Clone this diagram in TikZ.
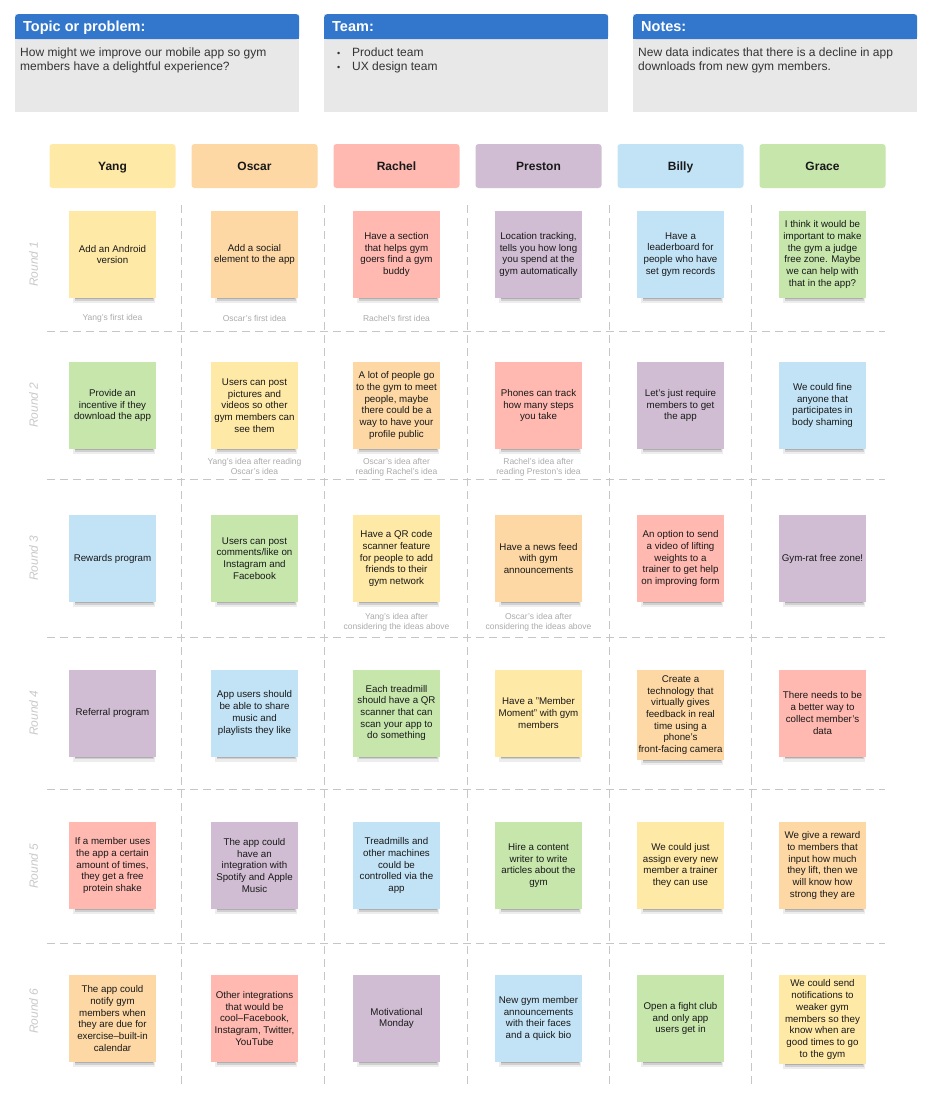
\documentclass[tikz,border=0pt]{standalone}
\usepackage{fontspec}
\setmainfont{Liberation Sans}
\usetikzlibrary{shadows}
\definecolor{hdrblue}{HTML}{3377CC}
\definecolor{hdrgray}{HTML}{E8E8E8}
\definecolor{bodytext}{HTML}{333333}
\definecolor{yel}{HTML}{FFE9A6}
\definecolor{ora}{HTML}{FDD8A4}
\definecolor{pnk}{HTML}{FFB9B1}
\definecolor{pur}{HTML}{D1BDD3}
\definecolor{blu}{HTML}{C2E3F6}
\definecolor{grn}{HTML}{C6E6AC}
\definecolor{gridgray}{HTML}{C6C6C6}
\definecolor{capgray}{HTML}{ABABAB}
\definecolor{lblgray}{HTML}{CACACA}
\begin{document}
\begin{tikzpicture}[x=1pt,y=-1pt,
  hdrbody/.style={fill=hdrgray, minimum width=284pt, minimum height=98pt, inner sep=0pt, anchor=north west},
  hdrbar/.style={fill=hdrblue, rounded corners=3pt, minimum width=284pt, minimum height=25pt, inner sep=0pt, anchor=north west},
  hdrtitle/.style={anchor=base west, inner sep=0pt, text=white, font=\fontsize{14.5}{16}\bfseries\selectfont},
  hdrtext/.style={anchor=north west, inner sep=0pt, align=left, text=bodytext, font=\fontsize{12}{14.5}\selectfont},
  colhead/.style={minimum width=126pt, minimum height=44pt, rounded corners=3pt, inner sep=0pt, text=black!90, font=\fontsize{12}{14}\bfseries\selectfont, text height=8.6pt, text depth=0pt},
  sticky/.style={minimum width=87pt, minimum height=87pt, inner sep=0pt, align=center, text=black!90,
     font=\fontsize{9.75}{11.7}\selectfont,
     general shadow={fill=black, opacity=0.07, shadow xshift=2pt, shadow yshift=-8.5pt, shadow scale=0.94},
     general shadow={fill=black, opacity=0.12, shadow xshift=2pt, shadow yshift=-7.5pt, shadow scale=0.91},
     general shadow={fill=black, opacity=0.16, shadow xshift=2pt, shadow yshift=-6pt, shadow scale=0.9}},
  capt/.style={align=center, inner sep=0pt, text=capgray, font=\fontsize{8.5}{10}\selectfont},
  roundlbl/.style={rotate=90, inner sep=0pt, text=lblgray, font=\fontsize{12}{14}\itshape\selectfont},
  gridline/.style={draw=gridgray, line width=0.9pt, dash pattern=on 8pt off 5pt}
]
\useasboundingbox (0,0) rectangle (936,1108);
\fill[white] (0,0) rectangle (936,1108);

% ---------- header boxes ----------
\node[hdrbody] (topicbox) at (15,14) {};
\node[hdrbar] (topicbar) at (15,14) {};
\fill[hdrblue] (15,30) rectangle (299,39);
\node[hdrtitle] (topictitle) at (23,32) {Topic or problem:};
\node[hdrtext] (topictext) at (20,47.3) {How might we improve our mobile app so gym\\members have a delightful experience?};

\node[hdrbody] (teambox) at (324,14) {};
\node[hdrbar] (teambar) at (324,14) {};
\fill[hdrblue] (324,30) rectangle (608,39);
\node[hdrtitle] (teamtitle) at (332,32) {Team:};
\node[hdrtext] (teamtext) at (337,47.3) {\makebox[15pt][l]{\fontsize{9}{9}\selectfont •}Product team\\\makebox[15pt][l]{\fontsize{9}{9}\selectfont •}UX design team};

\node[hdrbody] (notesbox) at (633,14) {};
\node[hdrbar] (notesbar) at (633,14) {};
\fill[hdrblue] (633,30) rectangle (917,39);
\node[hdrtitle] (notestitle) at (641,32) {Notes:};
\node[hdrtext] (notestext) at (638,47.3) {New data indicates that there is a decline in app\\downloads from new gym members.};

% ---------- column headers ----------
\node[colhead, fill=yel] (hYang) at (112.5,166) {Yang};
\node[colhead, fill=ora] (hOscar) at (254.5,166) {Oscar};
\node[colhead, fill=pnk] (hRachel) at (396.5,166) {Rachel};
\node[colhead, fill=pur] (hPreston) at (538.5,166) {Preston};
\node[colhead, fill=blu] (hBilly) at (680.5,166) {Billy};
\node[colhead, fill=grn] (hGrace) at (822.5,166) {Grace};

% ---------- grid ----------
\foreach \gx in {181,324,467,609,751} \draw[gridline] (\gx,205) -- (\gx,1087);
\foreach \gy in {331,479,637,789,943} \draw[gridline] (47,\gy) -- (885,\gy);

% ---------- round labels ----------
\node[roundlbl] (lbl1) at (33.5,264) {Round 1};
\node[roundlbl] (lbl2) at (33.5,405) {Round 2};
\node[roundlbl] (lbl3) at (33.5,558) {Round 3};
\node[roundlbl] (lbl4) at (33.5,713) {Round 4};
\node[roundlbl] (lbl5) at (33.5,866) {Round 5};
\node[roundlbl] (lbl6) at (33.5,1011) {Round 6};

% ---------- round 1 ----------
\node[sticky, fill=yel] (s11) at (112.5,254.5) {Add an Android\\version};
\node[sticky, fill=ora] (s12) at (254.5,254.5) {Add a social\\element to the app};
\node[sticky, fill=pnk] (s13) at (396.5,254.5) {Have a section\\that helps gym\\goers find a gym\\buddy};
\node[sticky, fill=pur] (s14) at (538.5,254.5) {Location tracking,\\tells you how long\\you spend at the\\gym automatically};
\node[sticky, fill=blu] (s15) at (680.5,254.5) {Have a\\leaderboard for\\people who have\\set gym records};
\node[sticky, fill=grn] (s16) at (822.5,254.5) {I think it would be\\important to make\\the gym a judge\\free zone. Maybe\\we can help with\\that in the app?};
\node[capt] (c11) at (112.5,318.5) {Yang's first idea};
\node[capt] (c12) at (254.5,318.5) {Oscar's first idea};
\node[capt] (c13) at (396.5,318.5) {Rachel's first idea};

% ---------- round 2 ----------
\node[sticky, fill=grn] (s21) at (112.5,405.5) {Provide an\\incentive if they\\download the app};
\node[sticky, fill=yel] (s22) at (254.5,405.5) {Users can post\\pictures and\\videos so other\\gym members can\\see them};
\node[sticky, fill=ora] (s23) at (396.5,405.5) {A lot of people go\\to the gym to meet\\people, maybe\\there could be a\\way to have your\\profile public};
\node[sticky, fill=pnk] (s24) at (538.5,405.5) {Phones can track\\how many steps\\you take};
\node[sticky, fill=pur] (s25) at (680.5,405.5) {Let's just require\\members to get\\the app};
\node[sticky, fill=blu] (s26) at (822.5,405.5) {We could fine\\anyone that\\participates in\\body shaming};
\node[capt] (c22) at (254.5,466) {Yang's idea after reading\\Oscar's idea};
\node[capt] (c23) at (396.5,467) {Oscar's idea after\\reading Rachel's idea};
\node[capt] (c24) at (538.5,467) {Rachel's idea after\\reading Preston's idea};

% ---------- round 3 ----------
\node[sticky, fill=blu] (s31) at (112.5,558.5) {Rewards program};
\node[sticky, fill=grn] (s32) at (254.5,558.5) {Users can post\\comments/like on\\Instagram and\\Facebook};
\node[sticky, fill=yel] (s33) at (396.5,558.5) {Have a QR code\\scanner feature\\for people to add\\friends to their\\gym network};
\node[sticky, fill=ora] (s34) at (538.5,558.5) {Have a news feed\\with gym\\announcements};
\node[sticky, fill=pnk] (s35) at (680.5,558.5) {An option to send\\a video of lifting\\weights to a\\trainer to get help\\on improving form};
\node[sticky, fill=pur] (s36) at (822.5,558.5) {Gym-rat free zone!};
\node[capt] (c33) at (396.5,622) {Yang's idea after\\considering the ideas above};
\node[capt] (c34) at (538.5,622) {Oscar's idea after\\considering the ideas above};

% ---------- round 4 ----------
\node[sticky, fill=pur] (s41) at (112.5,713) {Referral program};
\node[sticky, fill=blu] (s42) at (254.5,713) {App users should\\be able to share\\music and\\playlists they like};
\node[sticky, fill=grn] (s43) at (396.5,713) {Each treadmill\\should have a QR\\scanner that can\\scan your app to\\do something};
\node[sticky, fill=yel] (s44) at (538.5,713) {Have a "Member\\Moment" with gym\\members};
\node[sticky, fill=ora, minimum height=90pt] (s45) at (680.5,715) {Create a\\technology that\\virtually gives\\feedback in real\\time using a\\phone's\\front-facing camera};
\node[sticky, fill=pnk] (s46) at (822.5,713) {There needs to be\\a better way to\\collect member's\\data};

% ---------- round 5 ----------
\node[sticky, fill=pnk] (s51) at (112.5,865.5) {If a member uses\\the app a certain\\amount of times,\\they get a free\\protein shake};
\node[sticky, fill=pur] (s52) at (254.5,865.5) {The app could\\have an\\integration with\\Spotify and Apple\\Music};
\node[sticky, fill=blu] (s53) at (396.5,865.5) {Treadmills and\\other machines\\could be\\controlled via the\\app};
\node[sticky, fill=grn] (s54) at (538.5,865.5) {Hire a content\\writer to write\\articles about the\\gym};
\node[sticky, fill=yel] (s55) at (680.5,865.5) {We could just\\assign every new\\member a trainer\\they can use};
\node[sticky, fill=ora] (s56) at (822.5,865.5) {We give a reward\\to members that\\input how much\\they lift, then we\\will know how\\strong they are};

% ---------- round 6 ----------
\node[sticky, fill=ora] (s61) at (112.5,1018.5) {The app could\\notify gym\\members when\\they are due for\\exercise--built-in\\calendar};
\node[sticky, fill=pnk] (s62) at (254.5,1018.5) {Other integrations\\that would be\\cool--Facebook,\\Instagram, Twitter,\\YouTube};
\node[sticky, fill=pur] (s63) at (396.5,1018.5) {Motivational\\Monday};
\node[sticky, fill=blu] (s64) at (538.5,1018.5) {New gym member\\announcements\\with their faces\\and a quick bio};
\node[sticky, fill=grn] (s65) at (680.5,1018.5) {Open a fight club\\and only app\\users get in};
\node[sticky, fill=yel, minimum height=89pt] (s66) at (822.5,1019.5) {We could send\\notifications to\\weaker gym\\members so they\\know when are\\good times to go\\to the gym};
\end{tikzpicture}
\end{document}
